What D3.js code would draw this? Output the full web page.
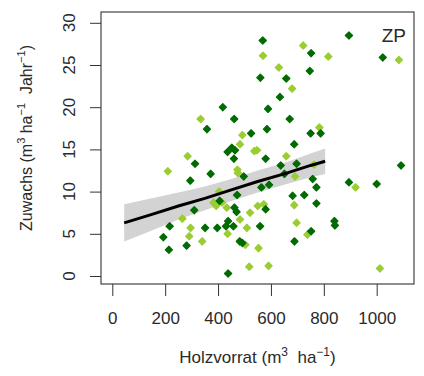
<!DOCTYPE html>
<html>
<head>
<meta charset="utf-8">
<script src="https://cdn.jsdelivr.net/npm/d3@7"></script>
<style>
  body { margin: 0; background: #fff; }
  svg { display: block; font-family: 'Liberation Sans', Arial, sans-serif; }
  text { fill: #2a2a2a; white-space: pre; }
</style>
</head>
<body>
<div id="root"></div>
<script>
// stand volume (m3/ha) and increment (m3/ha/yr), two groups of plots
const darkX = [569, 895, 752, 1023, 560, 658, 747, 634, 418, 589, 461, 671, 358, 585, 525, 750, 788, 688,
  436, 452, 464, 460, 580, 313, 637, 697, 1092, 372, 497, 651, 295, 758, 895, 1000, 593, 564, 772,
  472, 682, 726, 406, 462, 470, 310, 580, 772, 438, 430, 458, 217, 351, 397, 559, 840, 842, 752,
  193, 482, 492, 689, 281, 214, 438];
const darkY = [27.9, 28.5, 26.4, 25.9, 23.5, 23.4, 24.3, 21.2, 20.0, 19.8, 18.6, 18.6, 17.4, 17.4, 16.9, 16.9, 16.9, 15.6,
  14.7, 15.2, 14.9, 13.9, 13.9, 13.3, 13.1, 13.3, 13.1, 12.1, 11.8, 12.1, 11.3, 11.5, 11.1, 10.9, 10.8, 10.5, 10.5,
  9.6, 9.5, 9.6, 8.9, 8.1, 7.6, 7.8, 7.9, 8.6, 6.5, 5.9, 5.9, 5.9, 5.7, 5.7, 5.9, 6.5, 6.0, 5.3,
  4.6, 4.1, 3.9, 4.1, 3.6, 3.1, 0.3];
const lightX = [722, 570, 817, 1084, 630, 680, 334, 783, 492, 483, 537, 547, 658, 285, 763, 210, 473, 475,
  691, 920, 404, 383, 393, 415, 433, 550, 573, 688, 521, 265, 483, 296, 509, 697, 738, 291, 436, 340,
  503, 553, 518, 591, 1012];
const lightY = [27.3, 26.1, 26.0, 25.6, 24.7, 22.2, 18.6, 17.6, 16.7, 15.6, 14.8, 14.9, 14.2, 14.2, 13.2, 12.4, 12.6, 12.2,
  11.8, 10.5, 10.0, 8.7, 8.3, 8.7, 8.1, 8.3, 8.5, 8.4, 7.5, 6.8, 6.7, 5.7, 5.7, 6.3, 4.9, 4.7, 5.0, 4.1,
  3.7, 3.3, 1.1, 1.2, 0.9];

// fitted line with its confidence band
const fitX = [45, 150, 250, 350, 450, 550, 650, 750, 805];
const fitY = [6.3, 7.3, 8.3, 9.2, 10.2, 11.2, 12.1, 13.1, 13.6];
const bandLo = [4.1, 5.4, 6.7, 7.8, 8.9, 9.9, 10.8, 11.7, 12.1];
const bandHi = [8.5, 9.2, 9.9, 10.6, 11.5, 12.5, 13.4, 14.5, 15.1];

const xTicks = [0, 200, 400, 600, 800, 1000];
const yTicks = [0, 5, 10, 15, 20, 25, 30];

const width = 424;
const height = 376;
const box = { left: 101, right: 414, top: 12, bottom: 284 };

const x = d3.scaleLinear().domain([0, 1000]).range([112.3, 376.7]);
const y = d3.scaleLinear().domain([0, 30]).range([276, 22.8]);

const svg = d3.select('#root').append('svg')
  .attr('width', width)
  .attr('height', height);

// confidence band
const band = fitX.map((v, i) => ({ x: v, lo: bandLo[i], hi: bandHi[i] }));
svg.append('path')
  .datum(band)
  .attr('fill', '#d3d3d3')
  .attr('d', d3.area().x(d => x(d.x)).y0(d => y(d.lo)).y1(d => y(d.hi)));

// points
const diamond = 'M0,-3.6L3.6,0L0,3.6L-3.6,0Z';
function drawPoints(xs, ys, color) {
  svg.append('g')
    .selectAll('path')
    .data(xs.map((v, i) => [v, ys[i]]))
    .enter()
    .append('path')
    .attr('d', diamond)
    .attr('transform', d => `translate(${x(d[0])},${y(d[1])})`)
    .attr('fill', color)
    .attr('stroke', color)
    .attr('stroke-width', 1.2)
    .attr('stroke-linejoin', 'round');
}
drawPoints(lightX, lightY, '#9acd32');
drawPoints(darkX, darkY, '#006b00');

// regression line
svg.append('path')
  .datum(fitX.map((v, i) => [v, fitY[i]]))
  .attr('fill', 'none')
  .attr('stroke', '#000')
  .attr('stroke-width', 3)
  .attr('d', d3.line().x(d => x(d[0])).y(d => y(d[1])));

// frame
svg.append('rect')
  .attr('x', box.left)
  .attr('y', box.top)
  .attr('width', box.right - box.left)
  .attr('height', box.bottom - box.top)
  .attr('fill', 'none')
  .attr('stroke', '#444')
  .attr('stroke-width', 1.2);

// axes
const xAxis = svg.append('g')
  .attr('transform', `translate(0,${box.bottom})`)
  .call(d3.axisBottom(x).tickValues(xTicks).tickFormat(d3.format('d')).tickSize(12).tickPadding(16));
xAxis.select('.domain').remove();
xAxis.selectAll('.tick line').attr('stroke', '#333');
xAxis.selectAll('.tick text')
  .attr('font-size', 17)
  .attr('font-family', "'Liberation Sans', Arial, sans-serif")
  .attr('fill', '#2a2a2a');

const yAxis = svg.append('g')
  .attr('transform', `translate(${box.left},0)`)
  .call(d3.axisLeft(y).tickValues(yTicks).tickSize(11).tickFormat(''));
yAxis.select('.domain').remove();
yAxis.selectAll('.tick line').attr('stroke', '#333');

svg.append('g')
  .selectAll('text')
  .data(yTicks)
  .enter()
  .append('text')
  .attr('transform', d => `translate(75,${y(d)}) rotate(-90)`)
  .attr('text-anchor', 'middle')
  .attr('font-size', 17)
  .text(d => d);

// axis titles
const xTitle = svg.append('text')
  .attr('x', (box.left + box.right) / 2)
  .attr('y', 363)
  .attr('text-anchor', 'middle')
  .attr('font-size', 17);
xTitle.append('tspan').text('Holzvorrat (m');
xTitle.append('tspan').attr('dy', -7).attr('font-size', 12).text('3');
xTitle.append('tspan').attr('dy', 7).text('  ha');
xTitle.append('tspan').attr('dy', -7).attr('font-size', 12).text('\u22121');
xTitle.append('tspan').attr('dy', 7).text(')');

const yTitle = svg.append('text')
  .attr('transform', 'translate(32,138) rotate(-90)')
  .attr('text-anchor', 'middle')
  .attr('font-size', 16);
yTitle.append('tspan').text('Zuwachs (m');
yTitle.append('tspan').attr('dy', -7).attr('font-size', 11).text('3');
yTitle.append('tspan').attr('dy', 7).text(' ha');
yTitle.append('tspan').attr('dy', -7).attr('font-size', 11).text('\u22121');
yTitle.append('tspan').attr('dy', 7).text('  Jahr');
yTitle.append('tspan').attr('dy', -7).attr('font-size', 11).text('\u22121');
yTitle.append('tspan').attr('dy', 7).text(')');

svg.append('text')
  .attr('x', 406)
  .attr('y', 42)
  .attr('text-anchor', 'end')
  .attr('font-size', 19)
  .text('ZP');
</script>
</body>
</html>
